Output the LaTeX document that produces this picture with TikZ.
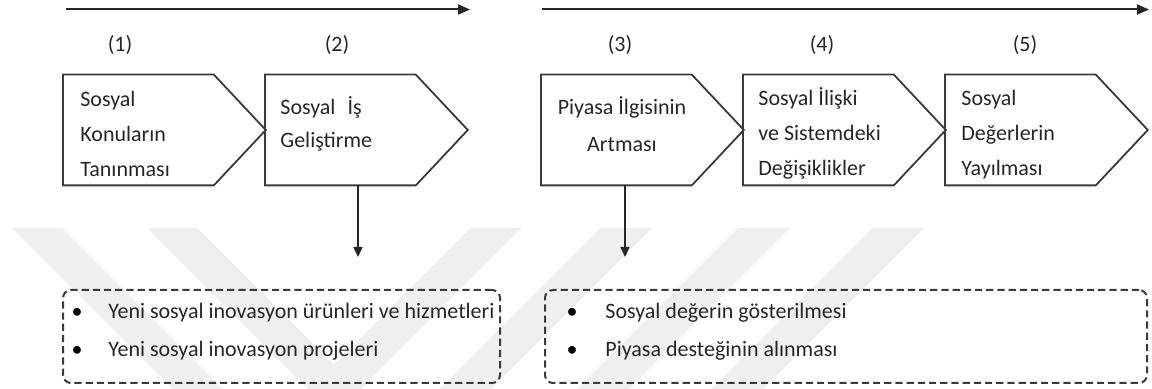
\documentclass[tikz,border=0pt]{standalone}
\usepackage{fontspec}
\setmainfont{Carlito}
\usetikzlibrary{arrows.meta,calc}

\definecolor{inkline}{HTML}{3A3A3A}
\definecolor{inktext}{HTML}{262626}
\definecolor{wmgrey}{HTML}{EFEFEF}

\tikzset{
  stagearea/.style={draw=none, inner sep=0pt, minimum width=101pt, minimum height=55pt, anchor=west},
  stageline/.style={draw=inkline, line width=0.9pt, line join=miter},
  stagetext/.style={anchor=west, align=left, inner sep=0pt, text=inktext,
    font=\fontsize{11}{17.5}\selectfont},
  steplabel/.style={inner sep=0pt, text=inktext, font=\fontsize{11}{13}\selectfont},
  timeline/.style={draw=black!85, line width=1pt, -{Triangle[length=6pt,width=5pt]}},
  flow/.style={draw=black!85, line width=0.8pt, -{Triangle[length=5pt,width=4.5pt]}},
  listbox/.style={draw=inkline, line width=1pt, dash pattern=on 3.6pt off 2pt,
    rounded corners=4pt, inner sep=0pt},
  itemtext/.style={anchor=west, inner sep=0pt, text=inktext, font=\fontsize{11}{13}\selectfont},
  bullet/.style={inner sep=0pt, text=black, font=\fontsize{11}{13}\selectfont},
  wm/.style={fill=wmgrey, draw=none}
}

\newcommand\stagebox[2]{%
  \node[stagearea] (#1) at (#2,130) {};
  \draw[stageline] (#1.north west) -- ([xshift=-26pt]#1.north east) -- (#1.east)
    -- ([xshift=-26pt]#1.south east) -- (#1.south west) -- cycle;}

\begin{document}
\begin{tikzpicture}[x=0.5pt,y=-0.5pt]
\useasboundingbox (0,0) rectangle (1152,389);

% faint chevron stripes in the background
\begin{scope}
  \clip (0,0) rectangle (1152,389);
  \foreach \a in {12,147}
    \fill[wm] (\a,228) -- ++(50,0) -- ++(220,220) -- ++(-50,0) -- cycle;
  \foreach \a in {470,600,738,872}
    \fill[wm] (\a,228) -- ++(52,0) -- ++(-220,220) -- ++(-52,0) -- cycle;
\end{scope}

% time axes
\coordinate (axisAstart) at (66,9.5);
\coordinate (axisAend) at (470,9.5);
\coordinate (axisBstart) at (542,9.5);
\coordinate (axisBend) at (1149,9.5);
\draw[timeline] (axisAstart) -- (axisAend);
\draw[timeline] (axisBstart) -- (axisBend);

% step numbers
\node[steplabel] (n1) at (120,45) {(1)};
\node[steplabel] (n2) at (337,45) {(2)};
\node[steplabel] (n3) at (620,45) {(3)};
\node[steplabel] (n4) at (822,45) {(4)};
\node[steplabel] (n5) at (1025,45) {(5)};

% stage chevrons
\stagebox{s1}{63}
\stagebox{s2}{265}
\stagebox{s3}{541}
\stagebox{s4}{743}
\stagebox{s5}{945}

\node[stagetext] (t1) at (80,134) {Sosyal\\Konuların\\Tanınması};
\node[stagetext, font=\fontsize{11}{16.5}\selectfont] (t2) at (280,124) {Sosyal\hspace{6pt}İş\\Geliştirme};
\node[stagetext, anchor=center, align=center, font=\fontsize{11}{18.5}\selectfont] (t3) at (622,124) {Piyasa İlgisinin\\Artması};
\node[stagetext] (t4) at (758,133) {Sosyal İlişki\\ve Sistemdeki\\Değişiklikler};
\node[stagetext] (t5) at (961,135) {Sosyal\\Değerlerin\\Yayılması};

% outcome lists
\node[listbox, minimum width=218.5pt, minimum height=46.5pt] (list1) at (281.5,336.5) {};
\node[listbox, minimum width=301pt, minimum height=46.5pt] (list2) at (846,336.5) {};

\node[bullet] (b11) at (77,313) {•};
\node[itemtext] (i11) at (108,313) {Yeni sosyal inovasyon ürünleri ve hizmetleri};
\node[bullet] (b12) at (77,351) {•};
\node[itemtext] (i12) at (108,351) {Yeni sosyal inovasyon projeleri};

\node[bullet] (b21) at (572,313) {•};
\node[itemtext] (i21) at (605,313) {Sosyal değerin gösterilmesi};
\node[bullet] (b22) at (572,351) {•};
\node[itemtext] (i22) at (605,351) {Piyasa desteğinin alınması};

% links from stages to their outcomes
\coordinate (out1) at (358,257);
\coordinate (out2) at (625,257);
\draw[flow] (out1 |- s2.south) -- (out1);
\draw[flow] (out2 |- s3.south) -- (out2);
\end{tikzpicture}
\end{document}
